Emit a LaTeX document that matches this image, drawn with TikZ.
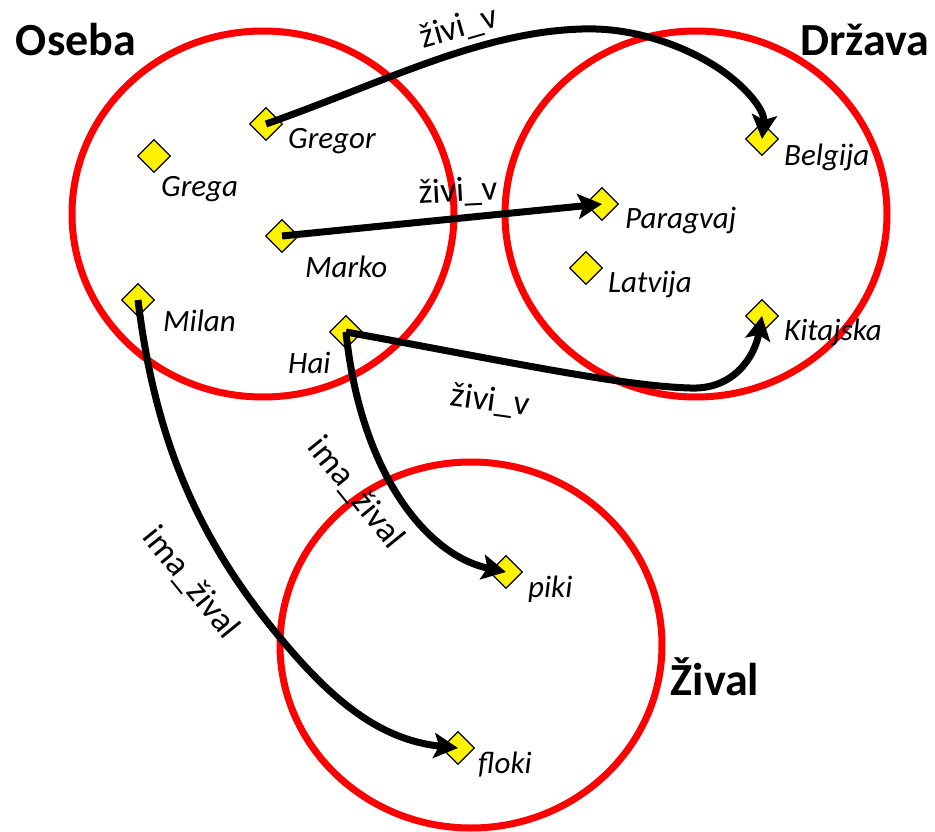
\documentclass[tikz,border=0pt]{standalone}
\usepackage{fontspec}
\setmainfont{Carlito}
\usetikzlibrary{shapes.geometric,arrows.meta}
\begin{document}
\begin{tikzpicture}[x=1pt,y=-1pt,
  setc/.style={ellipse,draw=red,line width=7pt,minimum width=382pt,minimum height=366pt,inner sep=0},
  elem/.style={diamond,draw=black,fill=yellow,line width=1.3pt,minimum width=33pt,minimum height=33pt,inner sep=0},
  elabel/.style={anchor=west,inner sep=0,font=\fontsize{31}{36}\selectfont\itshape},
  settitle/.style={inner sep=0,font=\fontsize{46}{52}\selectfont\bfseries},
  rellabel/.style={inner sep=0,font=\fontsize{35}{40}\selectfont},
  conn/.style={line width=7pt,-{Stealth[length=24pt,width=25pt,inset=5pt]}}]
\useasboundingbox (0,0) rectangle (935,832);
% sets
\node[setc] (cOseba) at (263,214) {};
\node[setc] (cDrzava) at (696,214) {};
\node[setc] (cZival) at (471,645) {};
% titles
\node[settitle] (tOseba) at (76,40) {Oseba};
\node[settitle] (tDrzava) at (865,40) {Država};
\node[settitle] (tZival) at (715,677) {Žival};
% elements
\node[elem] (gregor) at (266,124) {};
\node[elem] (grega) at (154,156) {};
\node[elem] (marko) at (282,236) {};
\node[elem] (milan) at (138,300) {};
\node[elem] (hai) at (346,332) {};
\node[elem] (belgija) at (762,139) {};
\node[elem] (paragvaj) at (602,204) {};
\node[elem] (latvija) at (586,268) {};
\node[elem] (kitajska) at (762,316) {};
\node[elem] (piki) at (506,572) {};
\node[elem] (floki) at (458,748) {};
% element names
\node[elabel] (lgregor) at (288,141) {Gregor};
\node[elabel] (lgrega) at (161,189) {Grega};
\node[elabel] (lmarko) at (305,267) {Marko};
\node[elabel] (lmilan) at (163,321) {Milan};
\node[elabel] (lhai) at (288,363) {Hai};
\node[elabel] (lbelgija) at (784,157) {Belgija};
\node[elabel] (lparagvaj) at (625,220) {Paragvaj};
\node[elabel] (llatvija) at (608,284) {Latvija};
\node[elabel] (lkitajska) at (784,332) {Kitajska};
\node[elabel] (lpiki) at (528,589) {piki};
\node[elabel] (lfloki) at (478,765) {floki};
% connectors
\draw[conn] (gregor.center) .. controls (385,82) and (480,32) .. (582,29)
  .. controls (640,27) and (690,50) .. (715,66)
  .. controls (745,85) and (765,110) .. (belgija.center);
\draw[conn] (marko.center) -- (paragvaj.center);
\draw[conn] (hai.center) .. controls (500,360) and (620,386) .. (690,388)
  .. controls (735,390) and (755,355) .. (kitajska.center);
\draw[conn] (hai.center) .. controls (360,470) and (425,555) .. (piki.center);
\draw[conn] (milan.center) .. controls (155,440) and (198,540) .. (282,640)
  .. controls (332,700) and (380,740) .. (floki.center);
% relation labels
\node[rellabel,rotate=16] (r1) at (459,28) {živi\_v};
\node[rellabel,rotate=3] (r2) at (458,192) {živi\_v};
\node[rellabel,rotate=-8] (r3) at (490,401) {živi\_v};
\node[rellabel,rotate=-51] (r4) at (356,493) {ima\_žival};
\node[rellabel,rotate=-51] (r5) at (191,583) {ima\_žival};
\end{tikzpicture}
\end{document}
